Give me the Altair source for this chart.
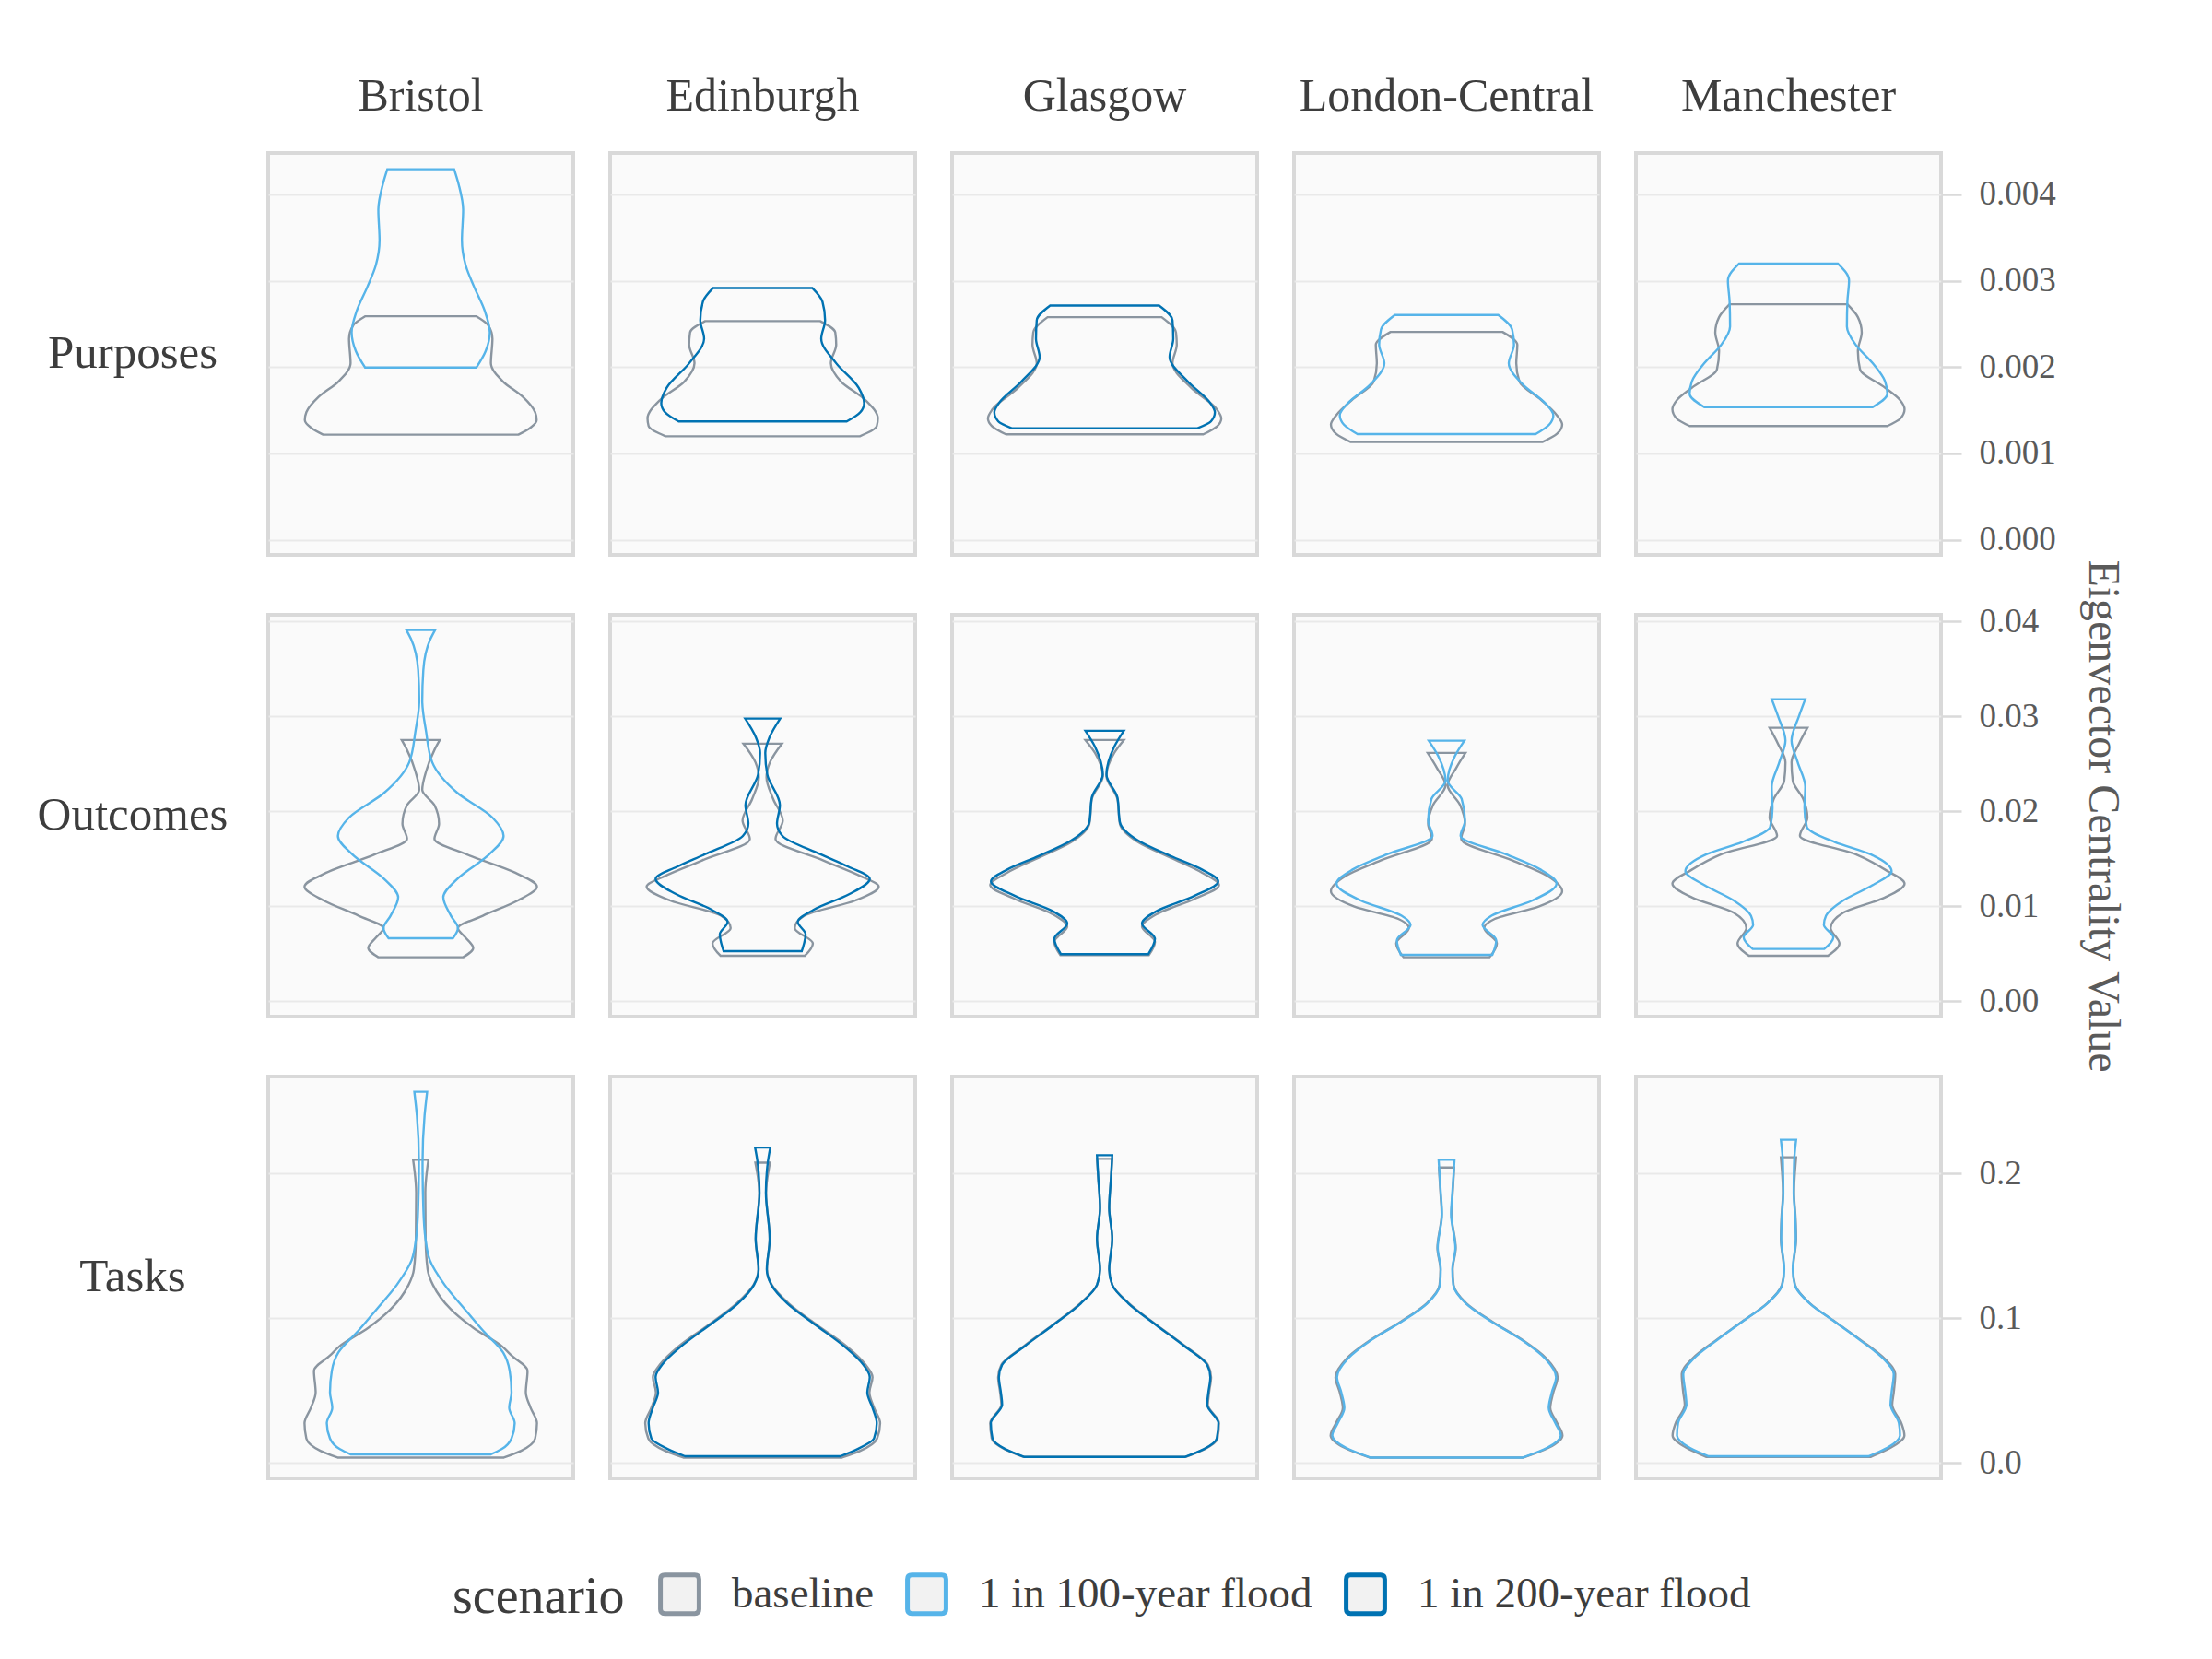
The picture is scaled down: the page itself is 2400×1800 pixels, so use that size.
import altair as alt
import pandas as pd

FONT = "Liberation Serif"

categories = ["Purposes", "Outcomes", "Tasks"]
cities = ["Bristol", "Edinburgh", "Glasgow", "London-Central", "Manchester"]
scenarios = ["baseline", "1 in 100-year flood", "1 in 200-year flood"]
scenario_colors = ["#8a95a0", "#56b4e9", "#0072b2"]

purposes_ticks = [0.0, 0.001, 0.002, 0.003, 0.004]
outcomes_ticks = [0.0, 0.01, 0.02, 0.03, 0.04]
tasks_ticks = [0.0, 0.1, 0.2]
tick_formats = [".3f", ".2f", ".1f"]
row_domains = [[-0.000176, 0.00448], [-0.00162, 0.0407], [-0.01057, 0.2671]]

# ---- Purposes (value = centrality, w = relative half-width of violin) ----
pur_bri_base_v = [.001216, .001298, .001387, .001476, .001653, .001831, .002044, .002329, .002489, .002588]
pur_bri_base_w = [.64, .72, .76, .75, .67, .54, .46, .47, .44, .365]
pur_bri_f_v = [.001995, .002187, .0024, .002649, .002933, .003182, .003467, .003822, .004107, .004292]
pur_bri_f_w = [.365, .426, .453, .42, .349, .294, .27, .278, .25, .219]
pur_edi_base_v = [.001198, .001316, .001404, .001618, .001831, .002044, .002258, .0024, .002532]
pur_edi_base_w = [.637, .748, .755, .673, .514, .447, .482, .476, .377]
pur_edi_f_v = [.001369, .001476, .001582, .00176, .002044, .002329, .002542, .002756, .002916]
pur_edi_f_w = [.551, .64, .665, .629, .482, .384, .409, .392, .325]
pur_gla_base_v = [.00122, .001316, .001404, .001511, .00176, .002044, .002258, .0024, .002578]
pur_gla_base_w = [.647, .739, .765, .735, .567, .445, .473, .468, .374]
pur_gla_f_v = [.001291, .001369, .001476, .001582, .001831, .002116, .002329, .002542, .002713]
pur_gla_f_w = [.609, .697, .723, .693, .546, .426, .45, .445, .357]
pur_lon_base_v = [.001131, .001227, .001333, .00144, .001618, .001831, .002044, .002258, .002407]
pur_lon_base_w = [.628, .724, .758, .724, .621, .478, .457, .464, .367]
pur_lon_f_v = [.001223, .001333, .00144, .001582, .001796, .002044, .002258, .002436, .002603]
pur_lon_f_w = [.584, .673, .70, .646, .501, .408, .442, .43, .339]
pur_man_base_v = [.001316, .001404, .001511, .001618, .00176, .001973, .002187, .0024, .002578, .002727]
pur_man_base_w = [.648, .734, .761, .731, .634, .469, .455, .48, .455, .386]
pur_man_f_v = [.001536, .001689, .001831, .002044, .002258, .002471, .002756, .003004, .0032]
pur_man_f_w = [.552, .648, .634, .552, .441, .383, .386, .397, .323]

# ---- Outcomes ----
out_bri_base_v = [.00463, .0056, .00673, .0077, .009, .01061, .01207, .01353, .01547, .01709, .0187, .02065, .02226, .0242, .02647, .02751]
out_bri_base_w = [.278, .344, .292, .244, .407, .637, .762, .62, .30, .09, .12, .09, .01, .035, .09, .125]
out_bri_f_v = [.00663, .0077, .009, .01094, .01288, .01547, .01741, .01935, .02194, .02518, .02841, .03165, .03488, .03812, .03909]
out_bri_f_w = [.211, .244, .198, .148, .24, .449, .543, .47, .24, .075, .035, .01, .017, .063, .094]
out_edi_base_v = [.00479, .00608, .0077, .009, .01061, .01207, .0132, .01482, .01709, .01903, .02129, .02356, .02518, .02712]
out_edi_base_w = [.277, .329, .21, .273, .608, .761, .639, .398, .084, .132, .069, .025, .048, .126]
out_edi_f_v = [.00527, .00705, .00835, .00964, .01126, .01288, .01418, .01547, .01741, .0187, .02065, .02388, .02615, .02777, .02977]
out_edi_f_w = [.256, .281, .23, .335, .566, .702, .56, .38, .13, .094, .113, .03, .017, .044, .115]
out_gla_base_v = [.00485, .00625, .00786, .00916, .01078, .01223, .01353, .01514, .01676, .0187, .02129, .02372, .02615, .02751]
out_gla_base_w = [.29, .33, .245, .34, .59, .75, .64, .43, .22, .10, .084, .012, .063, .126]
out_gla_f_v = [.00495, .00657, .00819, .00948, .0111, .01262, .01385, .01531, .01692, .01887, .02145, .02388, .02679, .02848]
out_gla_f_w = [.286, .33, .245, .34, .59, .745, .64, .43, .22, .10, .084, .012, .063, .126]
out_lon_base_v = [.00463, .00608, .0077, .00867, .00997, .01158, .0132, .01482, .01709, .0187, .02065, .02275, .02453, .02615]
out_lon_base_w = [.282, .33, .247, .316, .604, .758, .66, .433, .096, .121, .089, .007, .062, .124]
out_lon_f_v = [.00489, .00641, .00803, .009, .01061, .01239, .01385, .01547, .01741, .01903, .02129, .02323, .02582, .02744]
out_lon_f_w = [.30, .326, .236, .295, .563, .721, .618, .39, .092, .121, .099, .007, .055, .117]
out_man_base_v = [.00479, .00608, .0077, .00932, .01094, .01239, .01385, .01547, .01741, .01935, .02129, .02323, .02518, .02712, .0288]
out_man_base_w = [.259, .334, .276, .359, .634, .761, .634, .441, .075, .124, .097, .028, .02, .069, .124]
out_man_f_v = [.0055, .00673, .00803, .009, .01061, .01223, .01369, .01547, .01676, .01838, .02032, .02259, .02518, .02744, .03003, .03181]
out_man_f_w = [.234, .294, .232, .246, .359, .552, .676, .538, .303, .12, .105, .11, .06, .02, .069, .11]

# ---- Tasks ----
tas_bri_base_v = [.0038, .0085, .017, .0276, .0382, .0488, .0637, .0743, .0807, .0934, .1062, .1231, .1338, .155, .1868, .2096]
tas_bri_base_w = [.545, .658, .75, .762, .72, .689, .70, .595, .532, .345, .198, .08, .045, .032, .03, .05]
tas_bri_f_v = [.0059, .0096, .017, .0276, .0382, .0488, .0637, .0764, .0913, .1062, .1231, .1401, .155, .1762, .2081, .2399, .2565]
tas_bri_f_w = [.457, .53, .595, .616, .58, .595, .583, .54, .41, .29, .157, .06, .031, .017, .012, .025, .042]
tas_edi_base_v = [.0038, .0085, .017, .0276, .0382, .0488, .0594, .0679, .0807, .0955, .1104, .1231, .1338, .155, .1868, .2076]
tas_edi_base_w = [.52, .64, .75, .77, .73, .70, .72, .675, .55, .355, .17, .06, .028, .046, .022, .048]
tas_edi_f_v = [.0047, .0096, .017, .0276, .0382, .0488, .0594, .0679, .0807, .0955, .1104, .1231, .1338, .155, .1868, .2081, .218]
tas_edi_f_w = [.509, .62, .73, .748, .72, .686, .702, .66, .534, .346, .161, .057, .027, .046, .021, .034, .05]
tas_gla_base_v = [.0042, .0096, .017, .0276, .0403, .0488, .0594, .0679, .0807, .0955, .1104, .1231, .1338, .155, .1762, .1975, .2102]
tas_gla_base_w = [.53, .655, .74, .75, .677, .685, .698, .677, .53, .34, .16, .05, .03, .05, .03, .042, .05]
tas_gla_f_v = [.0042, .0096, .017, .0276, .0403, .0488, .0594, .0679, .0807, .0955, .1104, .1231, .1338, .155, .1762, .1975, .2127]
tas_gla_f_w = [.525, .65, .735, .746, .672, .68, .693, .672, .525, .336, .155, .05, .03, .05, .03, .042, .05]
tas_lon_base_v = [.0038, .0106, .0191, .0276, .0382, .0488, .0594, .0722, .0849, .0977, .1104, .1231, .1338, .1486, .172, .1868, .2042]
tas_lon_base_w = [.505, .67, .76, .725, .68, .70, .728, .655, .50, .30, .13, .046, .04, .06, .032, .04, .05]
tas_lon_f_v = [.0038, .0106, .0191, .0276, .0382, .0488, .0594, .0722, .0849, .0977, .1104, .1231, .1338, .1486, .172, .1868, .2096]
tas_lon_f_w = [.50, .66, .749, .713, .67, .69, .718, .646, .495, .295, .126, .044, .038, .058, .03, .038, .052]
tas_man_base_v = [.0042, .0106, .0191, .0276, .0403, .0488, .0616, .0722, .0849, .0977, .1104, .1231, .1338, .155, .1699, .1868, .2113]
tas_man_base_w = [.538, .67, .76, .74, .68, .69, .70, .63, .475, .305, .14, .043, .03, .05, .046, .036, .05]
tas_man_f_v = [.0047, .0106, .0191, .0276, .0403, .0488, .0616, .0722, .0849, .0977, .1104, .1231, .1338, .155, .1699, .1868, .2081, .2234]
tas_man_f_w = [.524, .648, .731, .724, .669, .676, .69, .621, .469, .303, .138, .041, .028, .048, .044, .034, .037, .05]

F100, F200 = "1 in 100-year flood", "1 in 200-year flood"
violins = [
    ("Purposes", "Bristol", "baseline", pur_bri_base_v, pur_bri_base_w),
    ("Purposes", "Bristol", F100, pur_bri_f_v, pur_bri_f_w),
    ("Purposes", "Edinburgh", "baseline", pur_edi_base_v, pur_edi_base_w),
    ("Purposes", "Edinburgh", F200, pur_edi_f_v, pur_edi_f_w),
    ("Purposes", "Glasgow", "baseline", pur_gla_base_v, pur_gla_base_w),
    ("Purposes", "Glasgow", F200, pur_gla_f_v, pur_gla_f_w),
    ("Purposes", "London-Central", "baseline", pur_lon_base_v, pur_lon_base_w),
    ("Purposes", "London-Central", F100, pur_lon_f_v, pur_lon_f_w),
    ("Purposes", "Manchester", "baseline", pur_man_base_v, pur_man_base_w),
    ("Purposes", "Manchester", F100, pur_man_f_v, pur_man_f_w),
    ("Outcomes", "Bristol", "baseline", out_bri_base_v, out_bri_base_w),
    ("Outcomes", "Bristol", F100, out_bri_f_v, out_bri_f_w),
    ("Outcomes", "Edinburgh", "baseline", out_edi_base_v, out_edi_base_w),
    ("Outcomes", "Edinburgh", F200, out_edi_f_v, out_edi_f_w),
    ("Outcomes", "Glasgow", "baseline", out_gla_base_v, out_gla_base_w),
    ("Outcomes", "Glasgow", F200, out_gla_f_v, out_gla_f_w),
    ("Outcomes", "London-Central", "baseline", out_lon_base_v, out_lon_base_w),
    ("Outcomes", "London-Central", F100, out_lon_f_v, out_lon_f_w),
    ("Outcomes", "Manchester", "baseline", out_man_base_v, out_man_base_w),
    ("Outcomes", "Manchester", F100, out_man_f_v, out_man_f_w),
    ("Tasks", "Bristol", "baseline", tas_bri_base_v, tas_bri_base_w),
    ("Tasks", "Bristol", F100, tas_bri_f_v, tas_bri_f_w),
    ("Tasks", "Edinburgh", "baseline", tas_edi_base_v, tas_edi_base_w),
    ("Tasks", "Edinburgh", F200, tas_edi_f_v, tas_edi_f_w),
    ("Tasks", "Glasgow", "baseline", tas_gla_base_v, tas_gla_base_w),
    ("Tasks", "Glasgow", F200, tas_gla_f_v, tas_gla_f_w),
    ("Tasks", "London-Central", "baseline", tas_lon_base_v, tas_lon_base_w),
    ("Tasks", "London-Central", F100, tas_lon_f_v, tas_lon_f_w),
    ("Tasks", "Manchester", "baseline", tas_man_base_v, tas_man_base_w),
    ("Tasks", "Manchester", F100, tas_man_f_v, tas_man_f_w),
]

records = []
for cat, city, scen, vals, widths in violins:
    for v, w in zip(vals, widths):
        records.append({"category": cat, "city": city, "scenario": scen, "value": v, "w": w})
df = pd.DataFrame(records)

row_ticks = [purposes_ticks, outcomes_ticks, tasks_ticks]

PANEL_W, PANEL_H = 331, 436
LABEL_W = 231

ROUNDED_SQUARE = ("M -0.78,-1 L 0.78,-1 Q 1,-1 1,-0.78 L 1,0.78 Q 1,1 0.78,1 "
                  "L -0.78,1 Q -1,1 -1,0.78 L -1,-0.78 Q -1,-1 -0.78,-1 Z")

legend = alt.Legend(
    orient="none", legendX=471, legendY=1540, direction="horizontal", columns=3,
    titleOrient="left", titleBaseline="middle", title="scenario", titleLimit=600,
    symbolType=ROUNDED_SQUARE, symbolSize=1750, symbolStrokeWidth=5, symbolFillColor="#f2f2f2",
    labelFont=FONT, titleFont=FONT, labelFontSize=47, titleFontSize=56,
    labelColor="#3d3d3d", titleColor="#3d3d3d", titleFontWeight="normal",
    labelLimit=800, labelOffset=33, columnPadding=26, titlePadding=36,
)
stroke_enc = alt.Stroke(
    "scenario:N",
    scale=alt.Scale(domain=scenarios, range=scenario_colors),
    legend=legend,
)


def panel(ri, cat, ci, city):
    d = df[(df.category == cat) & (df.city == city)]
    last = ci == len(cities) - 1
    if last:
        axis = alt.Axis(
            orient="right", values=row_ticks[ri], format=tick_formats[ri], grid=True,
            domain=False, ticks=True, labels=True, tickSize=22, tickWidth=2.5,
            tickColor="#dadada", labelPadding=19,
            title=("Eigenvector Centrality Value" if ri == 1 else None),
            titleFont=FONT, titleFontSize=48, titleFontWeight="normal",
            titleColor="#5a5a5a", titlePadding=45,
        )
    else:
        axis = alt.Axis(values=row_ticks[ri], grid=True, domain=False, ticks=False,
                        labels=False, title=None)
    y = alt.Y("value:Q", scale=alt.Scale(domain=row_domains[ri], nice=False, zero=False), axis=axis)
    x = alt.X("xl:Q", scale=alt.Scale(domain=[-1, 1], nice=False, zero=False), axis=None)
    base = alt.Chart(d).transform_calculate(xl="-datum.w")
    mk = dict(orient="horizontal", interpolate="monotone", fill="#f2f2f2", fillOpacity=0,
              strokeWidth=2.4)
    l1 = base.transform_filter(alt.datum.scenario == "baseline").mark_area(**mk).encode(
        y=y, x=x, x2="w:Q", stroke=stroke_enc)
    l2 = base.transform_filter(alt.datum.scenario != "baseline").mark_area(**mk).encode(
        y=y, x=x, x2="w:Q", stroke=stroke_enc)
    ch = alt.layer(l1, l2).properties(width=PANEL_W, height=PANEL_H)
    if ri == 0:
        ch = ch.properties(title=alt.TitleParams(
            city, font=FONT, fontSize=50, fontWeight="normal", color="#3d3d3d",
            anchor="middle", frame="group", offset=36))
    return ch


def label_chart(cat):
    return alt.Chart(pd.DataFrame({"label": [cat]})).mark_text(
        font=FONT, fontSize=51, color="#3d3d3d", align="center", baseline="middle"
    ).encode(
        x=alt.value(124), y=alt.value(PANEL_H / 2), text="label:N"
    ).properties(width=LABEL_W, height=PANEL_H,
                 view=alt.ViewBackground(strokeWidth=0, fillOpacity=0, strokeOpacity=0))


charts = []
for ri, cat in enumerate(categories):
    charts.append(label_chart(cat))
    for ci, city in enumerate(cities):
        charts.append(panel(ri, cat, ci, city))

chart = alt.concat(
    *charts, columns=6, spacing=alt.RowColnumber(row=65, column=40),
    bounds="flush", align="each",
).resolve_scale(
    x="independent", y="independent", stroke="shared"
).resolve_legend(stroke="shared").properties(
    padding={"left": 20, "top": 78, "right": 20, "bottom": 20},
    background="white",
).configure_view(
    fill="#fafafa", stroke="#d9d9d9", strokeWidth=4
).configure_axis(
    labelFont=FONT, labelFontSize=37, labelColor="#5a5a5a",
    gridColor="#e9e9e9", gridWidth=2,
)

chart.save("out.html", embed_options={"renderer": "svg", "actions": False})
